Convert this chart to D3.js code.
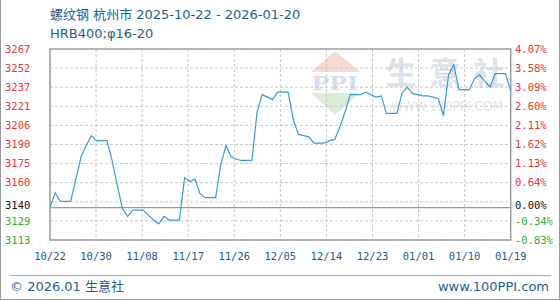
<html>
<head>
<meta charset="UTF-8">
<title>rebar hangzhou</title>
<script src="https://d3js.org/d3.v7.min.js"></script>
<style>
body { margin: 0; background: #fff; }
</style>
</head>
<body>
<svg width=560 height=300></svg>
<script>
// daily price, first value is 2025-10-22
var startDay = "2025-10-22";
var prices = [3140, 3152, 3145, 3145, 3145, 3163, 3181, 3190, 3198, 3194,
              3194, 3194, 3178, 3158, 3139, 3133, 3138, 3138, 3138, 3134,
              3130, 3127, 3133, 3130, 3130, 3130, 3164, 3161, 3163, 3151,
              3148, 3148, 3148, 3175, 3190, 3181, 3179, 3178, 3178, 3178,
              3217, 3231, 3229, 3227, 3233, 3233, 3233, 3211, 3199, 3198,
              3197, 3192, 3192, 3192, 3194, 3195, 3205, 3217, 3231, 3231,
              3231, 3233, 3231, 3229, 3230, 3216, 3216, 3216, 3232, 3237,
              3232, 3231, 3230, 3230, 3229, 3228, 3214, 3247, 3255, 3235,
              3235, 3235, 3244, 3247, 3242, 3237, 3248, 3248, 3248, 3234];
var basePrice = 3140;
var pctTicks = [-0.83, -0.34, 0.15, 0.64, 1.13, 1.62, 2.11, 2.60, 3.09, 3.58, 4.07];
var leftLabels = ["3113", "3129", null, "3160", "3175", "3190", "3206", "3221", "3237", "3252", "3267"];
var rightLabels = ["-0.83%", "-0.34%", null, "0.64%", "1.13%", "1.62%", "2.11%", "2.60%", "3.09%", "3.58%", "4.07%"];
var baseLabels = ["3140", "0.00%"];
var xLabels = ["10/22", "10/30", "11/08", "11/17", "11/26", "12/05", "12/14", "12/23", "01/01", "01/10", "01/19"];

var svg = d3.select("svg");
var plotLeft = 50, plotRight = 510.7, plotTop = 49, plotBottom = 240;

var t0 = d3.timeParse("%Y-%m-%d")(startDay);
var days = prices.map(function(p, i) { return d3.timeDay.offset(t0, i); });
var t1 = days[days.length - 1];

var xScale = d3.scaleTime().domain([t0, t1]).range([plotLeft, plotRight]);
var yScale = d3.scaleLinear()
    .domain([basePrice * (1 + pctTicks[0] / 100), basePrice * (1 + pctTicks[pctTicks.length - 1] / 100)])
    .range([plotBottom, plotTop]);
function pctY(p) { return yScale(basePrice * (1 + p / 100)); }

var xTicks = xLabels.map(function(l, i) { return new Date(+t0 + i * (t1 - t0) / (xLabels.length - 1)); });

// outer frame (no top edge)
svg.append("path").attr("d", "M0.5,0 V299.5 H559.5 V0")
   .style("fill", "none").style("stroke", "#9a9a9a");

// title
svg.append("text").attr("x", 50).attr("y", 19)
   .text("螺纹钢 杭州市 2025-10-22 - 2026-01-20")
   .style("font-family", '"DejaVu Sans", "Noto Sans CJK SC", sans-serif')
   .style("font-size", "13px").style("fill", "#1f5f8b");
svg.append("text").attr("x", 50).attr("y", 38)
   .text("HRB400;φ16-20")
   .style("font-family", '"DejaVu Sans", "Noto Sans CJK SC", sans-serif')
   .style("font-size", "13px").style("fill", "#1f5f8b");

// watermark
var wm = svg.append("g");
wm.append("polygon").attr("points", "335,51 311,72 360,72").style("fill", "#f7d8d5");
wm.append("polygon").attr("points", "311,93 359,93 335,115").style("fill", "#d9eed9");
wm.append("text").attr("x", 335).attr("y", 90).attr("text-anchor", "middle")
   .attr("textLength", 46).attr("lengthAdjust", "spacingAndGlyphs")
   .text("PPI").style("font-family", '"Liberation Serif", serif')
   .style("font-size", "20px").style("font-weight", "bold").style("fill", "#d6dcec");
var wmChars = ["生", "意", "社"];
wm.selectAll(".wmc").data(wmChars).enter().append("text")
   .attr("x", function(d, i) { return 401 + i * 44; }).attr("y", 84)
   .attr("text-anchor", "middle").text(function(d) { return d; })
   .style("font-family", '"Noto Sans CJK SC", sans-serif')
   .style("font-size", "31px").style("font-weight", "bold").style("fill", "#dde1eb");
wm.append("text").attr("x", 391).attr("y", 111)
   .attr("textLength", 112).attr("lengthAdjust", "spacingAndGlyphs")
   .text("WWW.100PPI.COM").style("font-family", '"DejaVu Sans", sans-serif')
   .style("font-size", "14px").style("fill", "#e6e6e6");

// grid
var grid = svg.append("g").style("stroke", "#c8c8c8").style("stroke-dasharray", "3,2");
grid.selectAll(".hg").data(pctTicks).enter().append("line")
   .attr("x1", plotLeft).attr("x2", plotRight)
   .attr("y1", function(d) { return pctY(d); }).attr("y2", function(d) { return pctY(d); });
grid.selectAll(".vg").data(xTicks).enter().append("line")
   .attr("y1", plotTop).attr("y2", plotBottom)
   .attr("x1", function(d) { return xScale(d); }).attr("x2", function(d) { return xScale(d); });

// base line and plot frame
svg.append("line").attr("x1", plotLeft).attr("x2", plotRight)
   .attr("y1", yScale(basePrice)).attr("y2", yScale(basePrice))
   .style("stroke", "#999").style("stroke-width", 1.3);
svg.append("rect").attr("x", plotLeft).attr("y", plotTop)
   .attr("width", plotRight - plotLeft).attr("height", plotBottom - plotTop)
   .style("fill", "none").style("stroke", "#a0a0a0").style("stroke-width", 1.5);

// price line
var line = d3.line()
   .x(function(d, i) { return xScale(days[i]); })
   .y(function(d) { return yScale(d); });
svg.append("path").datum(prices).attr("d", line)
   .style("fill", "none").style("stroke", "#3a9ad9").style("stroke-width", 1.2);

// y labels
var labelFont = '"DejaVu Sans Mono", monospace';
function tickColor(i) { return pctTicks[i] > 0 ? "#ee3333" : "#33aa33"; }
svg.append("g").selectAll("text").data(pctTicks).enter().append("text")
   .filter(function(d, i) { return leftLabels[i] != null; })
   .attr("x", 5).attr("y", function(d) { return pctY(d); }).attr("dy", "0.35em")
   .text(function(d) { return leftLabels[pctTicks.indexOf(d)]; })
   .style("fill", function(d) { return tickColor(pctTicks.indexOf(d)); })
   .style("font-family", labelFont).style("font-size", "10.5px");
svg.append("g").selectAll("text").data(pctTicks).enter().append("text")
   .filter(function(d, i) { return rightLabels[i] != null; })
   .attr("x", 515).attr("y", function(d) { return pctY(d); }).attr("dy", "0.35em")
   .text(function(d) { return rightLabels[pctTicks.indexOf(d)]; })
   .style("fill", function(d) { return tickColor(pctTicks.indexOf(d)); })
   .style("font-family", labelFont).style("font-size", "10.5px");
svg.append("text").attr("x", 5).attr("y", yScale(basePrice) - 2).attr("dy", "0.35em")
   .text(baseLabels[0]).style("fill", "#111")
   .style("font-family", labelFont).style("font-size", "10.5px");
svg.append("text").attr("x", 515).attr("y", yScale(basePrice) - 2).attr("dy", "0.35em")
   .text(baseLabels[1]).style("fill", "#111")
   .style("font-family", labelFont).style("font-size", "10.5px");

// x labels
svg.append("g").selectAll("text").data(xTicks).enter().append("text")
   .attr("x", function(d) { return xScale(d); }).attr("y", 260)
   .attr("text-anchor", "middle")
   .text(function(d, i) { return xLabels[i]; })
   .style("fill", "#1c5a8c").style("font-family", labelFont).style("font-size", "10.5px");

// footer
svg.append("line").attr("x1", 10).attr("x2", 551).attr("y1", 275.5).attr("y2", 275.5)
   .style("stroke", "#aaa");
svg.append("text").attr("x", 10).attr("y", 291)
   .text("© 2026.01 生意社")
   .style("font-family", '"DejaVu Sans", "Noto Sans CJK SC", sans-serif')
   .style("font-size", "13px").style("fill", "#1f5f8b");
svg.append("text").attr("x", 549).attr("y", 291).attr("text-anchor", "end")
   .text("www.100PPI.com")
   .style("font-family", '"DejaVu Sans", sans-serif')
   .style("font-size", "13px").style("fill", "#1f5f8b");
</script>
</body>
</html>
